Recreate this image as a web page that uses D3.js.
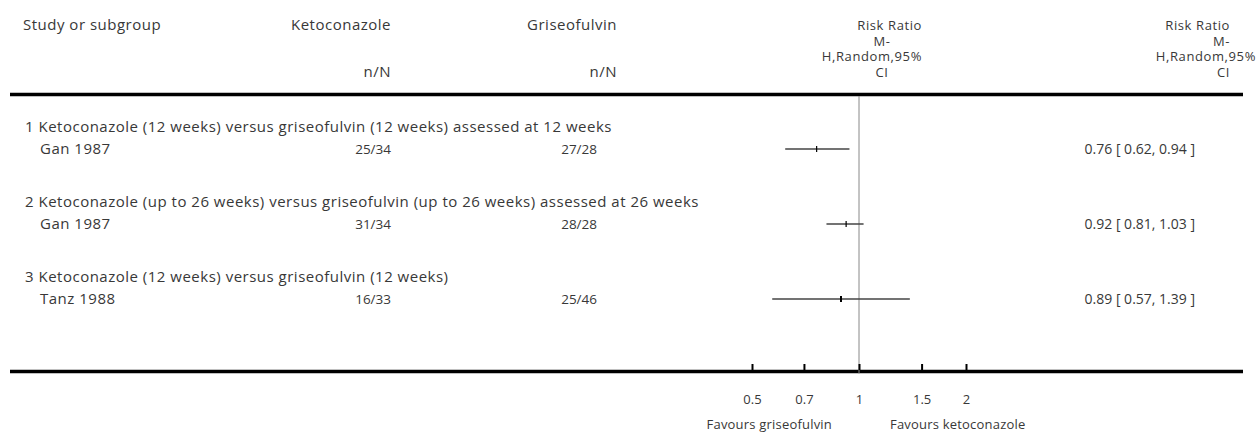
<!DOCTYPE html>
<html>
<head>
<meta charset="utf-8">
<script src="https://cdn.jsdelivr.net/npm/d3@7"></script>
<style>
  body { margin: 0; background: #fff; }
  svg text { font-family: "Open Sans", Lato, sans-serif; font-size: 15px; fill: #383838; letter-spacing: 0.5px; }
  svg text.num { font-size: 13.5px; letter-spacing: 0; }
  svg text.ci { font-size: 14px; letter-spacing: 0; }
  svg text.stack { font-size: 13px; letter-spacing: 0.6px; }
</style>
</head>
<body>
<script>
// data
var subgroups = [
  "1 Ketoconazole (12 weeks) versus griseofulvin (12 weeks) assessed at 12 weeks",
  "2 Ketoconazole (up to 26 weeks) versus griseofulvin (up to 26 weeks) assessed at 26 weeks",
  "3 Ketoconazole (12 weeks) versus griseofulvin (12 weeks)"
];
var studies = ["Gan 1987", "Gan 1987", "Tanz 1988"];
var ketoEvents = [25, 31, 16];
var ketoTotal = [34, 34, 33];
var grisEvents = [27, 28, 25];
var grisTotal = [28, 28, 46];
var riskRatio = [0.76, 0.92, 0.89];
var ciLow = [0.62, 0.81, 0.57];
var ciHigh = [0.94, 1.03, 1.39];
var tickValues = [0.5, 0.7, 1, 1.5, 2];
var tickLabels = ["0.5", "0.7", "1", "1.5", "2"];
var favourLeft = "Favours griseofulvin";
var favourRight = "Favours ketoconazole";

var width = 1258, height = 438;

var svg = d3.select("body").append("svg")
  .attr("width", width)
  .attr("height", height);

var x = d3.scaleLog().domain([0.5, 2]).range([752, 966]);
var y = d3.scaleLinear().domain([0, 2]).range([149, 299]);
var axisY = 371.5;

// header
var head = svg.append("g");
head.append("text").attr("x", 23).attr("y", 30).text("Study or subgroup");
head.append("text").attr("x", 391).attr("y", 30).attr("text-anchor", "end").text("Ketoconazole");
head.append("text").attr("x", 391).attr("y", 77).attr("text-anchor", "end").text("n/N");
head.append("text").attr("x", 617).attr("y", 30).attr("text-anchor", "end").text("Griseofulvin");
head.append("text").attr("x", 617).attr("y", 77).attr("text-anchor", "end").text("n/N");

// plot column header (wrapped)
head.append("text").attr("class", "stack").attr("x", 922).attr("y", 30).attr("text-anchor", "end").text("Risk Ratio");
head.append("text").attr("class", "stack").attr("x", 882).attr("y", 45.5).attr("text-anchor", "middle").text("M-");
head.append("text").attr("class", "stack").attr("x", 922).attr("y", 61).attr("text-anchor", "end").text("H,Random,95%");
head.append("text").attr("class", "stack").attr("x", 882).attr("y", 77).attr("text-anchor", "middle").text("CI");

// right column header (wrapped)
head.append("text").attr("class", "stack").attr("x", 1230).attr("y", 30).attr("text-anchor", "end").text("Risk Ratio");
head.append("text").attr("class", "stack").attr("x", 1230).attr("y", 45.5).attr("text-anchor", "end").text("M-");
head.append("text").attr("class", "stack").attr("x", 1256).attr("y", 61).attr("text-anchor", "end").text("H,Random,95%");
head.append("text").attr("class", "stack").attr("x", 1230).attr("y", 77).attr("text-anchor", "end").text("CI");

// heavy rules
svg.append("line")
  .attr("x1", 10).attr("x2", 1243).attr("y1", 94.5).attr("y2", 94.5)
  .attr("stroke", "#000").attr("stroke-width", 3.5);
svg.append("line")
  .attr("x1", 10).attr("x2", 1243).attr("y1", axisY).attr("y2", axisY)
  .attr("stroke", "#000").attr("stroke-width", 3.5);

// line of no effect
svg.append("line")
  .attr("x1", x(1)).attr("x2", x(1))
  .attr("y1", 96).attr("y2", axisY + 2)
  .attr("stroke", "#888").attr("stroke-width", 1);

// rows
var rows = svg.append("g");
subgroups.forEach(function (s, i) {
  var yy = y(i);
  rows.append("text").attr("x", 25).attr("y", yy - 17).text(s);
  rows.append("text").attr("x", 40).attr("y", yy + 5).text(studies[i]);
  rows.append("text").attr("class", "num").attr("x", 391).attr("y", yy + 5).attr("text-anchor", "end")
    .text(ketoEvents[i] + "/" + ketoTotal[i]);
  rows.append("text").attr("class", "num").attr("x", 597).attr("y", yy + 5).attr("text-anchor", "end")
    .text(grisEvents[i] + "/" + grisTotal[i]);
  rows.append("text").attr("class", "ci").attr("x", 1195).attr("y", yy + 5).attr("text-anchor", "end")
    .text(riskRatio[i].toFixed(2) + " [ " + ciLow[i].toFixed(2) + ", " + ciHigh[i].toFixed(2) + " ]");

  rows.append("line")
    .attr("x1", x(ciLow[i])).attr("x2", x(ciHigh[i]))
    .attr("y1", yy).attr("y2", yy)
    .attr("stroke", "#444").attr("stroke-width", 1.4);
  rows.append("line")
    .attr("x1", x(riskRatio[i])).attr("x2", x(riskRatio[i]))
    .attr("y1", yy - 3).attr("y2", yy + 3)
    .attr("stroke", "#000").attr("stroke-width", i == 2 ? 2 : 1.2);
});

// axis
var axis = d3.axisBottom(x)
  .tickValues(tickValues)
  .tickFormat(function (d, i) { return tickLabels[i]; })
  .tickSizeInner(-6)
  .tickSizeOuter(0)
  .tickPadding(34);

var gx = svg.append("g")
  .attr("transform", "translate(0," + (axisY - 1.5) + ")")
  .call(axis);
gx.select(".domain").remove();
gx.selectAll(".tick line").attr("stroke", "#000").attr("stroke-width", 2);
gx.selectAll(".tick text")
  .attr("fill", "#383838")
  .style("font-family", "'Open Sans', sans-serif")
  .style("font-size", "13px")
  .style("letter-spacing", "0")
  .attr("dy", 0);

svg.append("text").attr("x", x(1) - 27).attr("y", axisY + 57)
  .attr("text-anchor", "end").style("font-size", "13px").style("letter-spacing", "0.2px").text(favourLeft);
svg.append("text").attr("x", x(1) + 31).attr("y", axisY + 57)
  .style("font-size", "13px").style("letter-spacing", "0.2px").text(favourRight);
</script>
</body>
</html>
